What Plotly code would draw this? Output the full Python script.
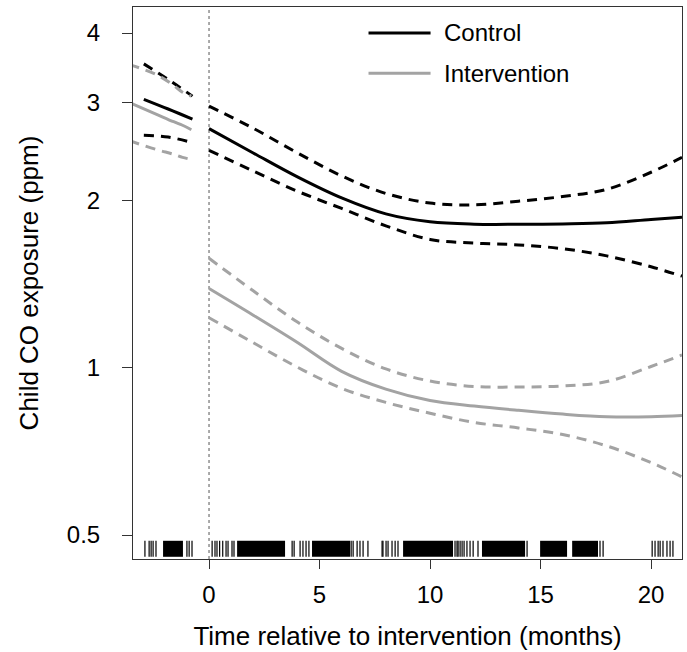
import plotly.graph_objects as go

# ---- fitted child CO exposure (ppm), before and after the intervention ----
ctrl_pre_t = [-2.95, -1.85, -0.75]
ctrl_pre_fit = [3.04, 2.92, 2.80]
ctrl_pre_hi = [3.52, 3.30, 3.08]
ctrl_pre_lo = [2.62, 2.60, 2.54]

int_pre_t = [-3.6, -2.4, -1.6, -1.2, -0.8]
int_pre_fit = [3.00, 2.86, 2.77, 2.73, 2.68]
int_pre_hi = [3.51, 3.37, 3.22, 3.13, 3.08]
int_pre_lo = [2.56, 2.47, 2.42, 2.39, 2.37]

post_t = [0, 2, 4, 6, 8, 10, 12, 14, 16, 18, 20, 21.4]
ctrl_post_fit = [2.692, 2.434, 2.204, 2.020, 1.891, 1.830, 1.812, 1.811, 1.814, 1.822, 1.848, 1.864]
ctrl_post_hi = [2.954, 2.696, 2.435, 2.213, 2.058, 1.978, 1.963, 1.993, 2.032, 2.094, 2.247, 2.390]
ctrl_post_lo = [2.461, 2.258, 2.077, 1.934, 1.800, 1.701, 1.675, 1.663, 1.637, 1.589, 1.519, 1.461]

int_post_fit = [1.388, 1.243, 1.110, 0.985, 0.915, 0.873, 0.853, 0.838, 0.825, 0.816, 0.816, 0.820]
int_post_hi = [1.573, 1.375, 1.208, 1.083, 0.995, 0.946, 0.925, 0.923, 0.927, 0.944, 1.005, 1.054]
int_post_lo = [1.230, 1.109, 1.002, 0.918, 0.866, 0.828, 0.797, 0.779, 0.758, 0.723, 0.675, 0.636]

# ---- measurement times (months) shown as a rug ----
rug_times = [-2.90, -2.71, -2.62, -2.53, -2.40, -1.00, -0.90, -0.77,
             0.14, 0.27, 0.36, 0.48, 0.62, 0.77, 0.86, 1.04, 1.13,
             3.76, 3.85, 4.12, 4.25, 4.39, 4.52,
             6.43, 6.52, 6.70, 6.83, 6.97, 7.19, 7.83, 7.87, 8.01, 8.10, 8.28, 8.42, 8.55,
             11.13, 11.22, 11.27, 11.36, 11.45, 11.54, 11.67, 11.81, 11.95, 12.17,
             14.39, 17.69, 17.83,
             20.05, 20.18, 20.32, 20.41, 20.54, 20.72, 20.86, 20.99]
# stretches where measurements are too close together to separate
rug_dense = [(-2.08, -1.18), (1.27, 3.44), (4.66, 6.38), (8.78, 11.04),
             (12.35, 14.30), (14.98, 16.20), (16.43, 17.60)]

x_ticks = [0, 5, 10, 15, 20]
y_ticks = [0.5, 1, 2, 3, 4]
y_tick_text = ["0.5", "1", "2", "3", "4"]

BLACK = "#000000"
GREY = "#a3a3a3"
DASH = "10px,7px"
FONT = "Liberation Sans, Arial, Helvetica, sans-serif"

fig = go.Figure()


def add_curve(t, y, color, dash=None):
    fig.add_trace(go.Scatter(
        x=t, y=y, mode="lines", showlegend=False, hoverinfo="skip",
        line=dict(color=color, width=3, dash=dash, shape="spline", smoothing=1.0),
    ))


for t, fit, lo, hi, col in [
    (ctrl_pre_t, ctrl_pre_fit, ctrl_pre_lo, ctrl_pre_hi, BLACK),
    (int_pre_t, int_pre_fit, int_pre_lo, int_pre_hi, GREY),
    (post_t, ctrl_post_fit, ctrl_post_lo, ctrl_post_hi, BLACK),
    (post_t, int_post_fit, int_post_lo, int_post_hi, GREY),
]:
    add_curve(t, hi, col, DASH)
    add_curve(t, lo, col, DASH)
    add_curve(t, fit, col)

shapes = []
# start of intervention
shapes.append(dict(type="line", xref="x", yref="paper", x0=0, x1=0, y0=0, y1=1,
                   line=dict(color="#555555", width=1, dash="dot"), layer="below"))
# rug
RUG_Y0, RUG_Y1 = 0.004, 0.033
for t in rug_times:
    shapes.append(dict(type="line", xref="x", yref="paper", x0=t, x1=t,
                       y0=RUG_Y0, y1=RUG_Y1, line=dict(color=BLACK, width=1.2)))
for a, b in rug_dense:
    shapes.append(dict(type="rect", xref="x", yref="paper", x0=a, x1=b,
                       y0=RUG_Y0, y1=RUG_Y1, fillcolor=BLACK, line=dict(width=0)))

# legend drawn by hand: long line samples followed by labels
L_X0, L_X1, L_TXT = 0.429, 0.542, 0.563
legend_items = [("Control", BLACK, 0.953), ("Intervention", GREY, 0.880)]
annotations = []
for name, col, yy in legend_items:
    shapes.append(dict(type="line", xref="paper", yref="paper", x0=L_X0, x1=L_X1,
                       y0=yy, y1=yy, line=dict(color=col, width=3)))
    annotations.append(dict(xref="paper", yref="paper", x=L_TXT, y=yy, text=name,
                            showarrow=False, xanchor="left", yanchor="middle",
                            font=dict(size=24, color=BLACK, family=FONT)))

axis_common = dict(
    showgrid=False, zeroline=False, showline=True, linecolor="#333333", linewidth=1,
    mirror=True, ticks="outside", tickcolor="#333333", tickwidth=1,
    tickfont=dict(size=24, color=BLACK, family=FONT),
    title_font=dict(size=26, color=BLACK, family=FONT),
)

fig.update_layout(
    width=687, height=652,
    margin=dict(l=133, r=5, t=7, b=93),
    paper_bgcolor="white", plot_bgcolor="white",
    font=dict(family=FONT, size=24, color=BLACK),
    shapes=shapes, annotations=annotations,
    xaxis=dict(axis_common, range=[-3.44, 21.40], tickvals=x_ticks, ticklen=9,
               ticklabelstandoff=5,
               title=dict(text="Time relative to intervention (months)", standoff=20)),
    yaxis=dict(axis_common, type="log", range=[-0.3442, 0.6489], tickvals=y_ticks,
               ticktext=y_tick_text, ticklen=10, ticklabelstandoff=17,
               title=dict(text="Child CO exposure (ppm)", standoff=20)),
)

fig.write_html("out.html")
